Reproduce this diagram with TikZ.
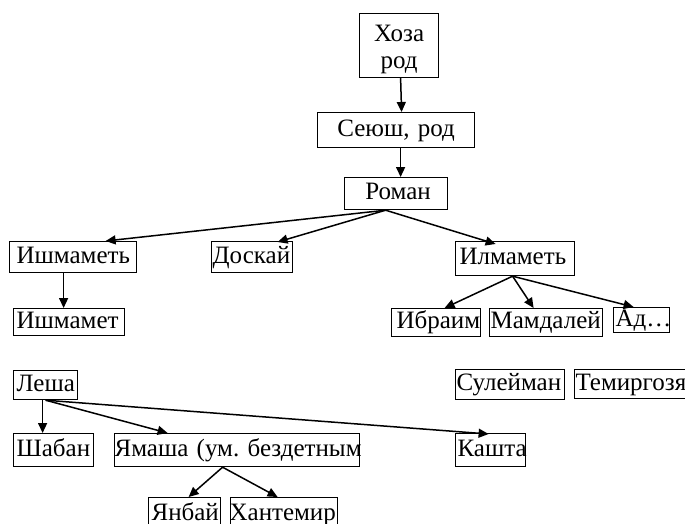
\documentclass[tikz,border=0pt]{standalone}
\usepackage{fontspec}
\setmainfont{Liberation Serif}
\usetikzlibrary{arrows.meta}
\tikzset{
  bx/.style={draw, line width=1.2pt, rectangle, anchor=north west, inner xsep=0pt, inner ysep=0pt,
    align=left, font=\fontsize{25}{27}\selectfont, text height=17pt, text depth=5pt},
  cbx/.style={bx, align=center},
  ar/.style={line width=1.5pt, -{Triangle[length=10pt,width=9pt]}}
}
\newcommand{\tx}[2]{\hspace*{#1pt}\rlap{#2}}
\begin{document}
\begin{tikzpicture}[x=1pt,y=-1pt]
\useasboundingbox (0,0) rectangle (685,524);
\node[draw, line width=1.2pt, anchor=north west, inner sep=0pt, align=center,
  font=\fontsize{25}{27}\selectfont, text width=79pt, minimum height=64pt] (hoza) at (359,13)
  {\rule{0pt}{24pt}Хоза\\род};
\node[cbx, text width=157pt, minimum height=35pt] (seyush) at (317,112) {Сеюш, род};
\node[cbx, text width=103pt, minimum height=32pt] (roman) at (344,177) {\hspace*{4pt}Роман};
\node[bx, text width=127pt, minimum height=31pt] (ishm) at (9,241) {\tx{7}{Ишмаметь}};
\node[bx, text width=81pt, minimum height=31pt] (doskay) at (211,241) {\tx{1}{Доскай}};
\node[bx, text width=119pt, minimum height=34pt] (ilm) at (455,241) {\tx{4}{Илмаметь}};
\node[bx, text width=111pt, minimum height=27pt] (ishmt) at (13,308) {\tx{3}{Ишмамет}};
\node[bx, text width=89pt, minimum height=28pt] (ibraim) at (391,308) {\tx{5}{Ибраим}};
\node[bx, text width=113pt, minimum height=28pt] (mamd) at (489,308) {\tx{1}{Мамдалей}};
\node[bx, text width=56pt, minimum height=25pt] (ad) at (613,307) {\tx{2}{Ад…}};
\node[bx, text width=109pt, minimum height=30pt] (suleym) at (455,369) {\tx{1}{Сулейман}};
\node[bx, text width=126pt, minimum height=29pt] (temir) at (574,369) {\tx{1}{Темиргозя}};
\node[bx, text width=64pt, minimum height=29pt] (lesha) at (13,370) {\tx{3}{Леша}};
\node[bx, text width=80pt, minimum height=33pt] (shaban) at (13,433) {\tx{3}{Шабан}};
\node[bx, text width=245pt, minimum height=33pt] (yamasha) at (114,433) {\tx{0}{Ямаша (ум.\ бездетным}};
\node[bx, text width=70pt, minimum height=33pt] (kashta) at (455,433) {\tx{2}{Кашта}};
\node[bx, text width=72pt, minimum height=33pt] (yanbay) at (148,497) {\tx{3}{Янбай}};
\node[bx, text width=107pt, minimum height=33pt] (hantemir) at (230,497) {\tx{-1}{Хантемир}};
% connectors
\draw[ar] ([xshift=1.5pt]hoza.south) -- ([xshift=5.5pt]seyush.north);
\draw[ar] ([xshift=4.5pt]seyush.south) -- ([xshift=4.5pt]roman.north);
\draw[ar] ([xshift=-10.5pt]roman.south) -- ([xshift=32.5pt]ishm.north);
\draw[ar] ([xshift=-10.5pt]roman.south) -- ([xshift=25.5pt,yshift=-1pt]doskay.north);
\draw[ar] ([xshift=-10.5pt]roman.south) -- ([xshift=-19.5pt,yshift=-3pt]ilm.north);
\draw[ar] ([xshift=-9.5pt]ishm.south) -- ([xshift=-5.5pt]ishmt.north);
\draw[ar] ([xshift=-2.5pt]ilm.south) -- ([xshift=8.5pt]ibraim.north);
\draw[ar] ([xshift=-2.5pt]ilm.south) -- ([xshift=-12.5pt]mamd.north);
\draw[ar] ([xshift=-2.5pt]ilm.south) -- ([xshift=-8pt]ad.north);
\draw[ar] ([xshift=-3pt]lesha.south) -- ([xshift=-11pt]shaban.north);
\draw[ar] (lesha.south) -- ([xshift=-69.5pt]yamasha.north);
\draw[ar] (lesha.south) -- ([xshift=-2pt,yshift=-1pt]kashta.north);
\draw[ar] ([xshift=-14.5pt]yamasha.south) -- ([xshift=4pt]yanbay.north);
\draw[ar] ([xshift=-14.5pt]yamasha.south) -- ([xshift=-6.5pt]hantemir.north);
\end{tikzpicture}
\end{document}
